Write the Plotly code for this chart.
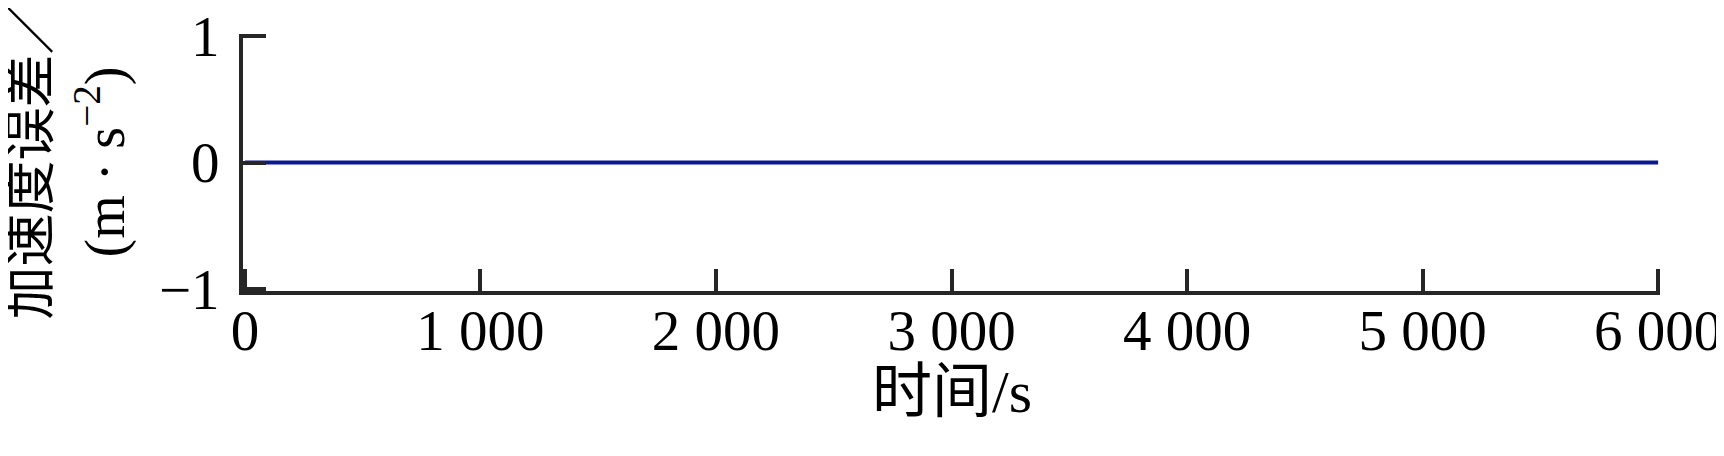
import plotly.graph_objects as go

# time axis (s) and acceleration error (m/s^2)
time_s = [0, 1000, 2000, 3000, 4000, 5000, 6000]
accel_err = [0, 0, 0, 0, 0, 0, 0]

x_ticks = [0, 1000, 2000, 3000, 4000, 5000, 6000]
x_tick_text = ["0", "1 000", "2 000", "3 000", "4 000", "5 000", "6 000"]
y_ticks = [-1, 0, 1]
y_tick_text = ["\u22121", "0", "1"]

x_title = "时间/s"
y_title_lines = ["加速度误差\uff0f", "(m · s<sup>−2</sup>)"]

FONT = "Liberation Serif, Noto Sans CJK SC"
AXIS_COLOR = "#262626"

fig = go.Figure()
fig.add_trace(
    go.Scatter(
        x=time_s,
        y=accel_err,
        mode="lines",
        line=dict(color="#0b1890", width=4),
        showlegend=False,
    )
)

# ranges padded a hair so the end ticks are not clipped away
fig.update_layout(
    width=1724,
    height=456,
    margin=dict(l=235, r=72, t=26, b=173),
    paper_bgcolor="white",
    plot_bgcolor="white",
    font=dict(family=FONT, size=57, color="black"),
    xaxis=dict(
        range=[-8, 6008],
        tickvals=x_ticks,
        ticktext=x_tick_text,
        ticks="inside",
        ticklen=22,
        tickwidth=4,
        tickcolor=AXIS_COLOR,
        showline=True,
        linecolor=AXIS_COLOR,
        linewidth=4,
        showgrid=False,
        zeroline=False,
        ticklabelstandoff=-13,
        ticklabeloverflow="allow",
        automargin=False,
    ),
    yaxis=dict(
        range=[-1.015, 1.015],
        tickvals=y_ticks,
        ticktext=y_tick_text,
        ticks="inside",
        ticklen=23,
        tickwidth=4,
        tickcolor=AXIS_COLOR,
        showline=True,
        linecolor=AXIS_COLOR,
        linewidth=4,
        showgrid=False,
        zeroline=False,
        ticklabelstandoff=8,
        ticklabeloverflow="allow",
        automargin=False,
    ),
)

# axis titles as annotations so they can sit where the original has them
fig.add_annotation(
    text=x_title, xref="paper", yref="paper", x=0.5, y=0,
    xanchor="center", yanchor="middle", yshift=-101,
    showarrow=False, font=dict(size=60),
)
fig.add_annotation(
    text=y_title_lines[0], xref="paper", yref="paper", x=0, y=0.5,
    xanchor="center", yanchor="middle", xshift=-213, yshift=2,
    textangle=-90, showarrow=False, font=dict(size=53),
)
fig.add_annotation(
    text=y_title_lines[1], xref="paper", yref="paper", x=0, y=0.5,
    xanchor="center", yanchor="middle", xshift=-142, yshift=0,
    textangle=-90, showarrow=False, font=dict(size=56),
)

fig.write_html("out.html")
